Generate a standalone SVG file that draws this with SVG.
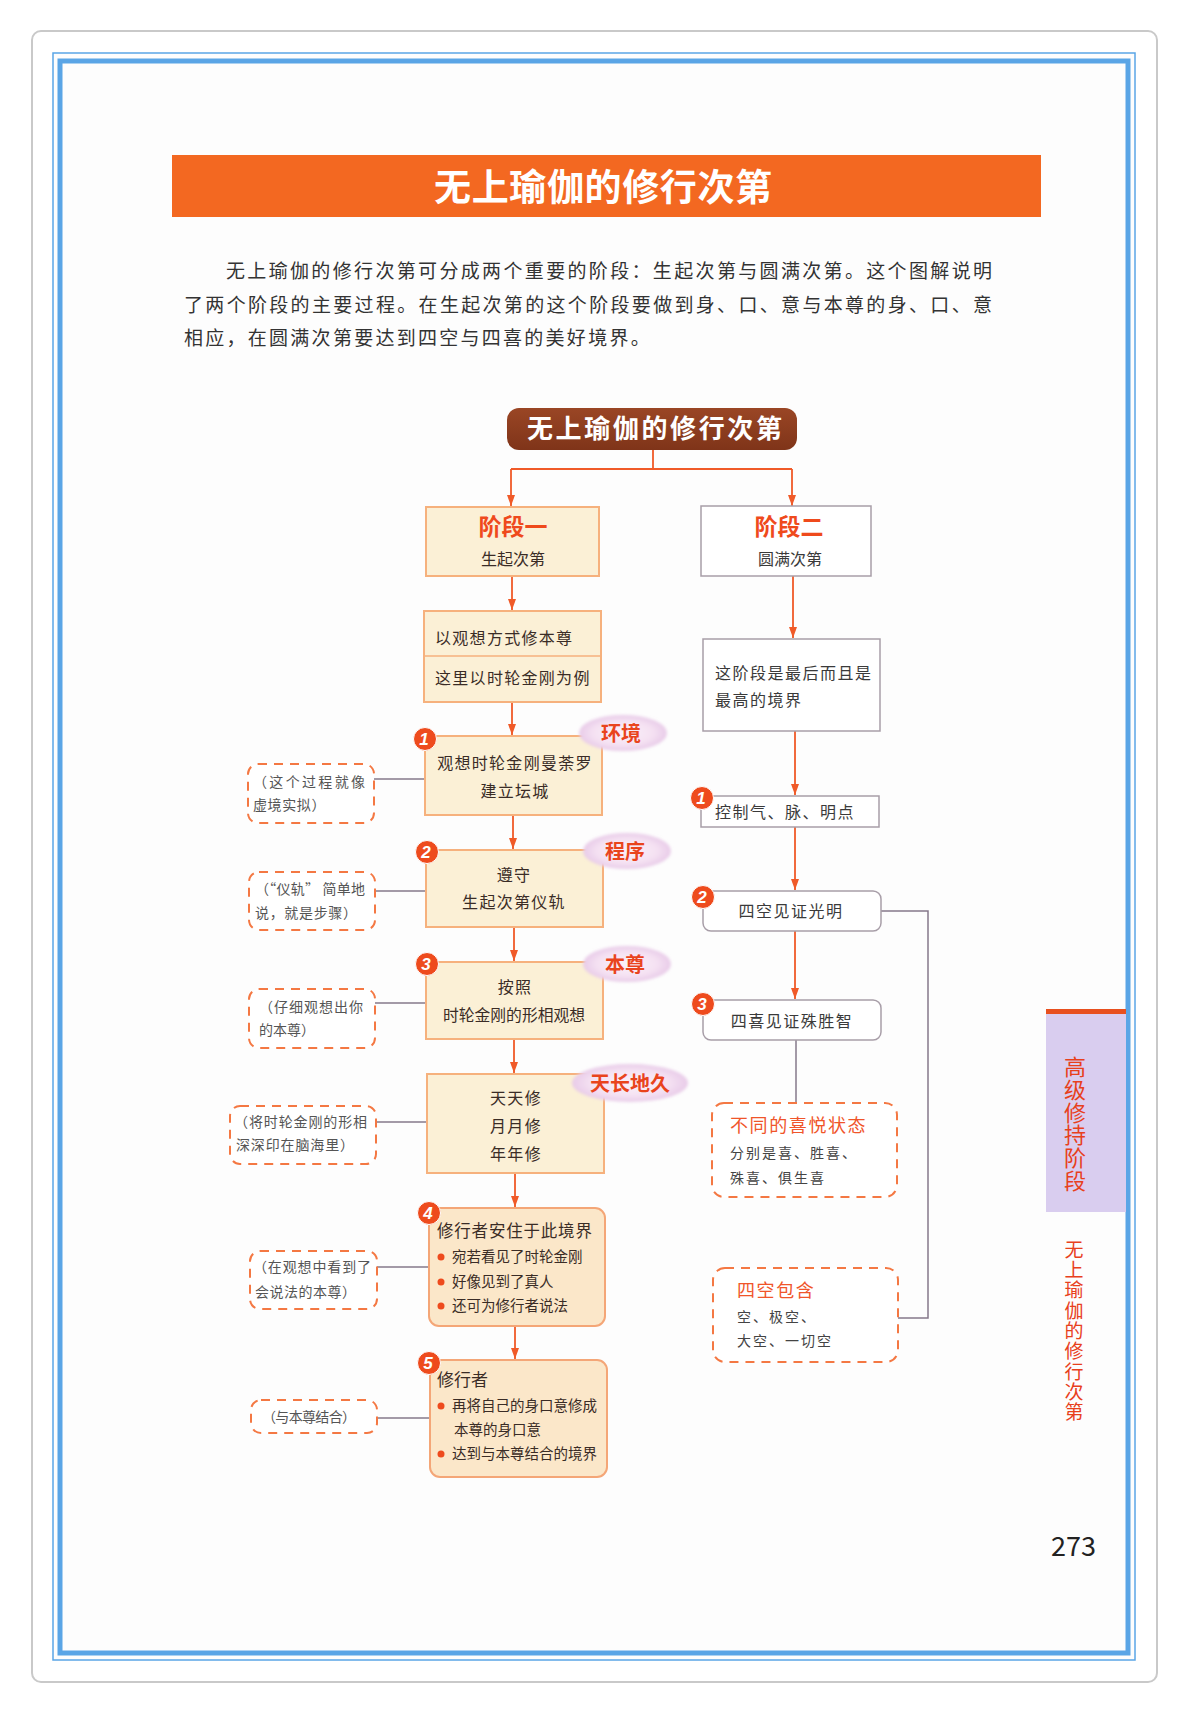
<svg xmlns="http://www.w3.org/2000/svg" width="1188" height="1714" viewBox="0 0 1188 1714">
<defs>
<style>
text{font-family:'Noto Sans CJK SC','Noto Sans CJK JP',sans-serif}
.box{fill:#fbf0d6;stroke:#f6b17d;stroke-width:2}
.box2{fill:#fbe7c9;stroke:#f4a677;stroke-width:2}
.gbox{fill:#ffffff;stroke:#a89ea8;stroke-width:1.5}
.dash{fill:#ffffff;stroke:#f47843;stroke-width:2;stroke-dasharray:9 7}
.conn{stroke:#f05a28;stroke-width:1.8;fill:none}
.gline{stroke:#85788a;stroke-width:1.5;fill:none}
.t{font-size:16px;fill:#3a2c26;letter-spacing:1.3px}
.tr{font-size:16px;fill:#3a3a3a;letter-spacing:1.5px}
.note{font-size:14px;fill:#555555}
.tag{font-size:20px;font-weight:bold;fill:#e9441d;text-anchor:middle}
.head{font-size:23px;font-weight:bold;fill:#ef4a1c;text-anchor:middle}
.badge{fill:#ee4b1d;stroke:#ffffff;stroke-width:1}
.bn{font-family:'Liberation Sans',Arial,sans-serif;font-size:17px;font-weight:bold;font-style:italic;fill:#ffffff;text-anchor:middle}
.dot{fill:#ee4b1d}
.sub{font-size:14.5px;fill:#3a2c26}
.red{font-size:18px;fill:#f0552a;letter-spacing:1.6px}
.nt{font-size:14px;fill:#444444;letter-spacing:2px}
.vert{writing-mode:vertical-rl;fill:#e8401c}
</style>
<marker id="ah" viewBox="0 0 11 8" refX="11" refY="4" markerWidth="11" markerHeight="8" markerUnits="userSpaceOnUse" orient="auto"><path d="M0,0 L11,4 L0,8 z" fill="#f05a28"/></marker>
<radialGradient id="tagg" cx="50%" cy="50%" r="50%">
<stop offset="0" stop-color="#fbf2f9"/>
<stop offset="0.7" stop-color="#f4e0f2"/>
<stop offset="1" stop-color="#e8cbe8"/>
</radialGradient>
<filter id="soft" x="-20%" y="-30%" width="140%" height="160%"><feGaussianBlur stdDeviation="1.5"/></filter>
<linearGradient id="brown" x1="0" y1="0" x2="0" y2="1">
<stop offset="0" stop-color="#9a4625"/>
<stop offset="1" stop-color="#7f3419"/>
</linearGradient>
</defs>

<!-- page -->
<g id="page">
<rect x="0" y="0" width="1188" height="1714" fill="#ffffff"/>
<rect x="32" y="31" width="1125" height="1651" rx="9" fill="#ffffff" stroke="#c9c9c9" stroke-width="2"/>
<rect x="53" y="53" width="1082" height="1607" fill="#fdfdfd" stroke="#5aa5e6" stroke-width="1.5"/>
<rect x="60" y="61" width="1068" height="1592" fill="none" stroke="#5aa5e6" stroke-width="5"/>
<rect x="172" y="155" width="869" height="62" fill="#f36821"/>
<text x="434" y="201" font-size="37" font-weight="bold" fill="#ffffff" textLength="338" lengthAdjust="spacing">无上瑜伽的修行次第</text>
<text x="226" y="278" font-size="19" fill="#333333" textLength="766" lengthAdjust="spacing">无上瑜伽的修行次第可分成两个重要的阶段：生起次第与圆满次第。这个图解说明</text>
<text x="184" y="312" font-size="19" fill="#333333" textLength="808" lengthAdjust="spacing">了两个阶段的主要过程。在生起次第的这个阶段要做到身、口、意与本尊的身、口、意</text>
<text x="184" y="345" font-size="19" fill="#333333" letter-spacing="2.27">相应，在圆满次第要达到四空与四喜的美好境界。</text>
<rect x="1046" y="1009" width="80" height="203" fill="#d9cdef"/>
<rect x="1046" y="1009" width="80" height="5" fill="#e8501f"/>
<text class="vert" x="1075" y="1056" font-size="22" letter-spacing="0.7">高级修持阶段</text>
<text class="vert" x="1074" y="1240" font-size="19" letter-spacing="1.3">无上瑜伽的修行次第</text>
<text x="1096" y="1556" font-family="'Liberation Serif','Times New Roman',serif" font-size="27" fill="#222222" text-anchor="end">273</text>
</g>

<!-- connectors -->
<g id="connectors">
<path class="conn" d="M653,450 V469 M511,469 H792"/>
<path class="conn" d="M511,469 V506" marker-end="url(#ah)"/>
<path class="conn" d="M792,469 V506" marker-end="url(#ah)"/>
<path class="conn" d="M512,576 V610" marker-end="url(#ah)"/>
<path class="conn" d="M512,702 V735" marker-end="url(#ah)"/>
<path class="conn" d="M513,815 V849" marker-end="url(#ah)"/>
<path class="conn" d="M514,927 V961" marker-end="url(#ah)"/>
<path class="conn" d="M514,1039 V1073" marker-end="url(#ah)"/>
<path class="conn" d="M515,1173 V1207" marker-end="url(#ah)"/>
<path class="conn" d="M515,1326 V1359" marker-end="url(#ah)"/>
<path class="conn" d="M793,576 V638" marker-end="url(#ah)"/>
<path class="conn" d="M795,731 V795" marker-end="url(#ah)"/>
<path class="conn" d="M795,827 V890" marker-end="url(#ah)"/>
<path class="conn" d="M795,931 V999" marker-end="url(#ah)"/>
<path class="gline" d="M374,779 H425"/>
<path class="gline" d="M375,891 H426"/>
<path class="gline" d="M375,1003 H426"/>
<path class="gline" d="M376,1122 H427"/>
<path class="gline" d="M377,1267 H429"/>
<path class="gline" d="M377,1418 H430"/>
<path class="gline" d="M796,1040 V1103"/>
<path class="gline" d="M881,911 H928 V1318 H898"/>
</g>

<!-- title node -->
<g id="n-title">
<rect x="507" y="408" width="290" height="42" rx="12" fill="url(#brown)"/>
<text x="527" y="438" font-size="26" font-weight="bold" fill="#ffffff" textLength="255" lengthAdjust="spacing">无上瑜伽的修行次第</text>
</g>

<g id="n-stage1">
<rect class="box" x="426" y="507" width="173" height="69"/>
<text class="head" x="513" y="535">阶段一</text>
<text x="513" y="565" font-size="16" fill="#3a2c26" text-anchor="middle">生起次第</text>
</g>

<g id="n-stage2">
<rect class="gbox" x="701" y="506" width="170" height="70"/>
<text class="head" x="789" y="535">阶段二</text>
<text x="790" y="565" font-size="16" fill="#3a3a3a" text-anchor="middle">圆满次第</text>
</g>

<g id="n-method">
<rect class="box" x="424" y="611" width="177" height="91"/>
<line x1="425" y1="656" x2="600" y2="656" stroke="#f6b17d" stroke-width="1.5"/>
<text class="t" x="435" y="644" letter-spacing="1.5">以观想方式修本尊</text>
<text class="t" x="435" y="684" letter-spacing="1.5">这里以时轮金刚为例</text>
</g>

<g id="n-step1">
<rect class="box" x="425" y="736" width="177" height="79"/>
<text class="t" x="515" y="769" text-anchor="middle">观想时轮金刚曼荼罗</text>
<text class="t" x="515" y="797" text-anchor="middle">建立坛城</text>
<ellipse cx="623" cy="733" rx="44" ry="18" fill="url(#tagg)" filter="url(#soft)"/>
<text class="tag" x="621" y="741">环境</text>
<circle class="badge" cx="425" cy="739" r="11.5"/>
<text class="bn" x="424" y="745">1</text>
</g>

<g id="n-step2">
<rect class="box" x="426" y="850" width="177" height="77"/>
<text class="t" x="514" y="881" text-anchor="middle">遵守</text>
<text class="t" x="514" y="908" text-anchor="middle">生起次第仪轨</text>
<ellipse cx="627" cy="851" rx="44" ry="18" fill="url(#tagg)" filter="url(#soft)"/>
<text class="tag" x="625" y="859">程序</text>
<circle class="badge" cx="427" cy="852" r="11.5"/>
<text class="bn" x="426" y="858">2</text>
</g>

<g id="n-step3">
<rect class="box" x="426" y="962" width="177" height="77"/>
<text class="t" x="515" y="993" text-anchor="middle">按照</text>
<text x="514" y="1021" font-size="15.8" fill="#3a2c26" text-anchor="middle">时轮金刚的形相观想</text>
<ellipse cx="627" cy="964" rx="44" ry="18" fill="url(#tagg)" filter="url(#soft)"/>
<text class="tag" x="625" y="972">本尊</text>
<circle class="badge" cx="427" cy="964" r="11.5"/>
<text class="bn" x="426" y="970">3</text>
</g>

<g id="n-daily">
<rect class="box" x="427" y="1074" width="177" height="99"/>
<text class="t" x="516" y="1104" text-anchor="middle">天天修</text>
<text class="t" x="516" y="1132" text-anchor="middle">月月修</text>
<text class="t" x="516" y="1160" text-anchor="middle">年年修</text>
<ellipse cx="630" cy="1083" rx="58" ry="19" fill="url(#tagg)" filter="url(#soft)"/>
<text class="tag" x="630" y="1091" font-size="21">天长地久</text>
</g>

<g id="n-step4">
<rect class="box2" x="429" y="1208" width="176" height="118" rx="10"/>
<text x="437" y="1237" font-size="16.5" fill="#3a2c26" letter-spacing="0.8">修行者安住于此境界</text>
<circle class="dot" cx="441" cy="1257" r="3.5"/>
<circle class="dot" cx="441" cy="1282" r="3.5"/>
<circle class="dot" cx="441" cy="1306" r="3.5"/>
<text class="sub" x="452" y="1262">宛若看见了时轮金刚</text>
<text class="sub" x="452" y="1287">好像见到了真人</text>
<text class="sub" x="452" y="1311">还可为修行者说法</text>
<circle class="badge" cx="429" cy="1213" r="11.5"/>
<text class="bn" x="428" y="1219">4</text>
</g>

<g id="n-step5">
<rect class="box2" x="430" y="1360" width="177" height="117" rx="10"/>
<text x="437" y="1386" font-size="17" fill="#3a2c26">修行者</text>
<circle class="dot" cx="441" cy="1406" r="3.5"/>
<circle class="dot" cx="441" cy="1454" r="3.5"/>
<text class="sub" x="452" y="1411">再将自己的身口意修成</text>
<text class="sub" x="454" y="1435">本尊的身口意</text>
<text class="sub" x="452" y="1459">达到与本尊结合的境界</text>
<circle class="badge" cx="429" cy="1363" r="11.5"/>
<text class="bn" x="428" y="1369">5</text>
</g>

<g id="n-highest">
<rect class="gbox" x="703" y="639" width="177" height="92"/>
<text class="tr" x="715" y="679">这阶段是最后而且是</text>
<text class="tr" x="715" y="706">最高的境界</text>
</g>

<g id="n-control">
<rect class="gbox" x="701" y="796" width="178" height="31"/>
<text class="tr" x="715" y="818">控制气、脉、明点</text>
<circle class="badge" cx="702" cy="798" r="11.5"/>
<text class="bn" x="701" y="804">1</text>
</g>

<g id="n-fourempty">
<rect class="gbox" x="703" y="891" width="178" height="40" rx="8"/>
<text class="tr" x="791" y="917" text-anchor="middle">四空见证光明</text>
<circle class="badge" cx="703" cy="897" r="11.5"/>
<text class="bn" x="702" y="903">2</text>
</g>

<g id="n-fourjoy">
<rect class="gbox" x="703" y="1000" width="178" height="40" rx="8"/>
<text class="tr" x="792" y="1027" text-anchor="middle">四喜见证殊胜智</text>
<circle class="badge" cx="703" cy="1004" r="11.5"/>
<text class="bn" x="702" y="1010">3</text>
</g>

<g id="n-joystates">
<rect class="dash" x="712" y="1103" width="185" height="94" rx="12"/>
<text class="red" x="730" y="1132">不同的喜悦状态</text>
<text class="nt" x="730" y="1158">分别是喜、胜喜、</text>
<text class="nt" x="730" y="1183">殊喜、俱生喜</text>
</g>

<g id="n-emptiness">
<rect class="dash" x="713" y="1268" width="185" height="94" rx="12"/>
<text class="red" x="737" y="1297">四空包含</text>
<text class="nt" x="737" y="1322">空、极空、</text>
<text class="nt" x="737" y="1346">大空、一切空</text>
</g>

<g id="note1">
<rect class="dash" x="248" y="764" width="126" height="59" rx="10"/>
<text class="note" x="253" y="787" textLength="112" lengthAdjust="spacing">（这个过程就像</text>
<text class="note" x="253" y="810" letter-spacing="0.6">虚境实拟）</text>
</g>

<g id="note2">
<rect class="dash" x="249" y="872" width="126" height="58" rx="10"/>
<text class="note" x="255" y="894" textLength="110" lengthAdjust="spacing">（“仪轨” 简单地</text>
<text class="note" x="255" y="918" textLength="102" lengthAdjust="spacing">说，就是步骤）</text>
</g>

<g id="note3">
<rect class="dash" x="249" y="989" width="126" height="59" rx="10"/>
<text class="note" x="259" y="1012" textLength="104" lengthAdjust="spacing">（仔细观想出你</text>
<text class="note" x="259" y="1035" textLength="56" lengthAdjust="spacing">的本尊）</text>
</g>

<g id="note4">
<rect class="dash" x="230" y="1106" width="146" height="58" rx="10"/>
<text class="note" x="234" y="1127" textLength="133" lengthAdjust="spacing">（将时轮金刚的形相</text>
<text class="note" x="236" y="1150" textLength="118" lengthAdjust="spacing">深深印在脑海里）</text>
</g>

<g id="note5">
<rect class="dash" x="250" y="1251" width="127" height="58" rx="10"/>
<text class="note" x="253" y="1272" textLength="118" lengthAdjust="spacing">（在观想中看到了</text>
<text class="note" x="255" y="1297" textLength="101" lengthAdjust="spacing">会说法的本尊）</text>
</g>

<g id="note6">
<rect class="dash" x="251" y="1400" width="126" height="33" rx="10"/>
<text class="note" x="262" y="1422" textLength="94" lengthAdjust="spacing">（与本尊结合）</text>
</g>
</svg>
